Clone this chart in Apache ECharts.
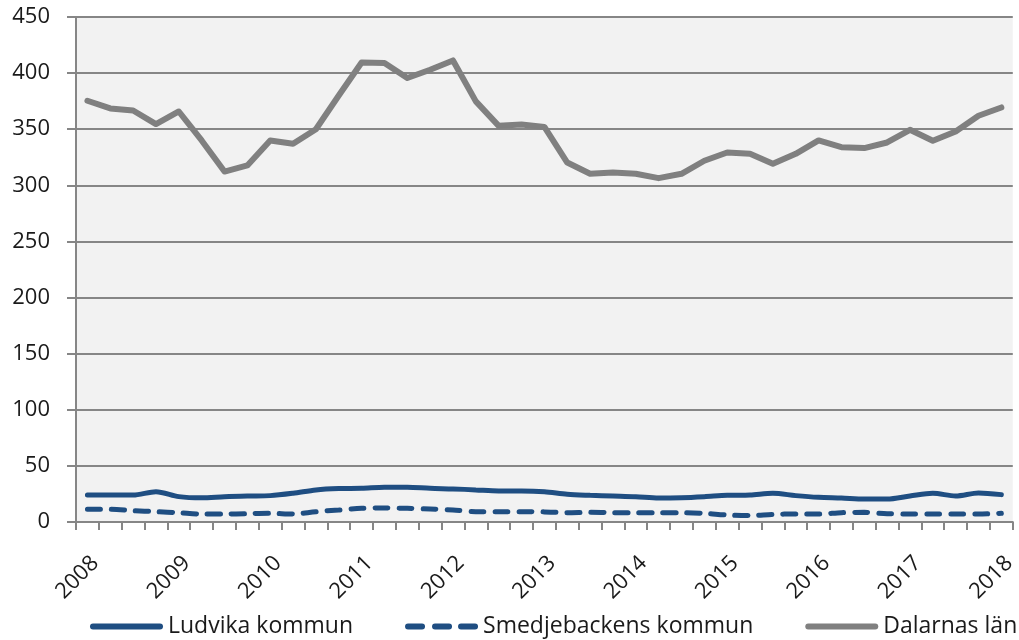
<!DOCTYPE html>
<html>
<head>
<meta charset="utf-8">
<script src="https://cdn.jsdelivr.net/npm/echarts@6/dist/echarts.min.js"></script>
<style>
html,body{margin:0;padding:0;background:#fff;}
#c{width:1019px;height:640px;}
</style>
</head>
<body>
<div id="c"></div>
<script>
const years = ['2008','2009','2010','2011','2012','2013','2014','2015','2016','2017','2018'];
const quarters = ['Q1','Q2','Q3','Q4'];
const categories = [];
for (let y = 0; y < years.length; y++) {
  for (let q = 0; q < 4; q++) {
    if (y === years.length - 1 && q > 0) break;
    categories.push(years[y] + ' ' + quarters[q]);
  }
}
const ludvika = [24,24,24,27,22.6,21.5,22.6,23.2,23.5,25.6,28.6,29.8,30,31,31,30,29.5,28.6,27.7,27.7,27,24.7,23.8,23.2,22.6,21.4,21.7,22.6,23.8,24.1,25.6,23.5,22,21.4,20.5,20.5,23.2,25.6,23.2,25.9,24.4];
const smedjebacken = [11.3,11.3,10.1,9.2,8.3,7.1,7.1,7.4,7.7,7.1,9.2,10.7,12.2,12.5,12.2,11.6,10.7,9.2,9.2,9.2,9,8.3,8.6,8.3,8.3,8.3,8.3,7.7,6.2,5.7,6.8,7.1,7.1,8.3,8.6,7.4,7.1,7.1,7.1,7.1,7.7];
const dalarna = [375.4,368.5,366.7,354.6,365.8,340,312.3,317.7,340,337,350,380,409.5,409,395.6,403,411.3,374.8,353,354.2,352,320.3,310.3,311.4,310.3,306.4,310.3,321.9,329.3,328.1,319.2,328.1,340,334,333.2,338.2,349.5,339.7,348,362,369.4];
const seriesNames = ['Ludvika kommun','Smedjebackens kommun','Dalarnas län'];
const yTicks = {min: 0, max: 450, interval: 50};

const font = 'Open Sans, Liberation Sans, sans-serif';
const solidIcon = 'path://M3,0 H70 A3,3 0 0 1 70,6 H3 A3,3 0 0 1 3,0 Z';
const dashIcon = 'path://M3,0 H17 A3,3 0 0 1 17,6 H3 A3,3 0 0 1 3,0 Z M30,0 H44 A3,3 0 0 1 44,6 H30 A3,3 0 0 1 30,0 Z M56,0 H70 A3,3 0 0 1 70,6 H56 A3,3 0 0 1 56,0 Z';
const chart = echarts.init(document.getElementById('c'));
chart.setOption({
  animation: false,
  backgroundColor: '#ffffff',
  grid: {left: 76, right: 3, top: 17, bottom: 118, show: true, backgroundColor: '#f2f2f2', borderWidth: 0},
  legend: {
    bottom: 2, left: 90, width: 929, padding: 0, itemWidth: 73, itemHeight: 6, itemGap: 52,
    textStyle: {fontFamily: font, fontSize: 23, color: '#1a1a1a'},
    data: [
      {name: seriesNames[0], icon: solidIcon},
      {name: seriesNames[1], icon: dashIcon},
      {name: seriesNames[2], icon: solidIcon}
    ]
  },
  xAxis: {
    type: 'category', data: categories, boundaryGap: true,
    axisLine: {show: true, lineStyle: {color: '#868686', width: 2}},
    axisTick: {show: true, interval: 0, length: 8, lineStyle: {color: '#868686', width: 2}},
    axisLabel: {
      interval: 3, rotate: 45, fontFamily: font, fontSize: 22, color: '#1a1a1a', margin: 30,
      verticalAlign: 'top',
      formatter: v => v.split(' ')[0]
    },
    splitLine: {show: false}
  },
  yAxis: {
    type: 'value', min: yTicks.min, max: yTicks.max, interval: yTicks.interval,
    axisLine: {show: true, lineStyle: {color: '#868686', width: 2}},
    axisTick: {show: true, length: 9, lineStyle: {color: '#868686', width: 2}},
    axisLabel: {fontFamily: font, fontSize: 22, color: '#1a1a1a', margin: 26},
    splitLine: {show: true, lineStyle: {color: '#868686', width: 2}}
  },
  series: [
    {name: seriesNames[0], type: 'line', data: ludvika, symbol: 'none', smooth: 0.3,
     itemStyle: {color: '#1f4e82'}, lineStyle: {color: '#1f4e82', width: 5, cap: 'round'}},
    {name: seriesNames[1], type: 'line', data: smedjebacken, symbol: 'none', smooth: 0.3,
     itemStyle: {color: '#1f4e82'}, lineStyle: {color: '#1f4e82', width: 5, type: [13, 11], cap: 'round'}},
    {name: seriesNames[2], type: 'line', data: dalarna, symbol: 'none',
     itemStyle: {color: '#808080'}, lineStyle: {color: '#808080', width: 6, cap: 'round', join: 'round'}}
  ]
});
</script>
</body>
</html>
